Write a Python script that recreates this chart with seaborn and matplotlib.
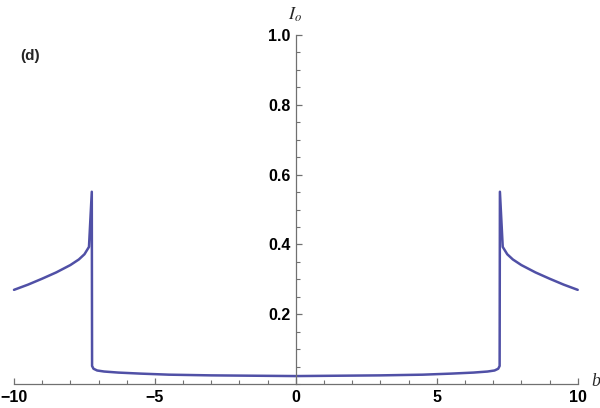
import matplotlib
matplotlib.use("Agg")
import matplotlib.pyplot as plt
import seaborn as sns
import pandas as pd
from matplotlib.ticker import MultipleLocator

# ---- data ----
b_vals = [-10.0, -9.5, -9.0, -8.5, -8.0, -7.7, -7.5, -7.34, -7.24, -7.23,
          -7.18, -7.05, -6.8, -6.3, -5.5, -4.5, -3.0, -1.5, 0.0,
          1.5, 3.0, 4.5, 5.5, 6.3, 6.8, 7.05, 7.18, 7.23, 7.24, 7.34,
          7.5, 7.7, 8.0, 8.5, 9.0, 9.5, 10.0]
io_vals = [0.270, 0.285, 0.302, 0.320, 0.341, 0.357, 0.372, 0.393, 0.551, 0.052,
           0.044, 0.039, 0.036, 0.033, 0.030, 0.027, 0.025, 0.024, 0.023,
           0.024, 0.025, 0.027, 0.030, 0.033, 0.036, 0.039, 0.044, 0.052, 0.551, 0.393,
           0.372, 0.357, 0.341, 0.320, 0.302, 0.285, 0.270]
x_major = [-10, -5, 0, 5, 10]
x_labels = ["\u221210", "\u22125", "0", "5", "10"]
y_major = [0.2, 0.4, 0.6, 0.8, 1.0]
y_labels = ["0.2", "0.4", "0.6", "0.8", "1.0"]
panel_label = "(d)"
x_name = "b"
y_name = r"$I_o$"

sns.set_style("white")
plt.rcParams["font.family"] = ["Liberation Sans", "DejaVu Sans"]
plt.rcParams["mathtext.fontset"] = "stix"

fig = plt.figure(figsize=(6.0, 4.08), dpi=100)
W, H = 600, 408
left_px, right_px, top_px, bottom_px = 14, 577.7, 35, 384.1
ax = fig.add_axes([left_px / W, 1 - bottom_px / H,
                   (right_px - left_px) / W, (bottom_px - top_px) / H])

df = pd.DataFrame({"b": b_vals, "Io": io_vals})
sns.lineplot(data=df, x="b", y="Io", sort=False, estimator=None,
             color="#5050a6", lw=1.8, ax=ax, clip_on=False)

ax.set_xlim(-10, 10)
ax.set_ylim(0, 1.0)
ax.set_xlabel("")
ax.set_ylabel("")

axis_col = "#707070"
for s in ["top", "right"]:
    ax.spines[s].set_visible(False)
ax.spines["left"].set_position(("data", 0))
ax.spines["bottom"].set_position(("data", 0))
for s in ["left", "bottom"]:
    ax.spines[s].set_color(axis_col)
    ax.spines[s].set_linewidth(0.9)

ax.set_xticks(x_major)
ax.set_xticklabels(x_labels)
ax.set_yticks(y_major)
ax.set_yticklabels(y_labels)
ax.xaxis.set_minor_locator(MultipleLocator(1))
ax.yaxis.set_minor_locator(MultipleLocator(0.05))
ax.tick_params(which="both", bottom=True, left=True, top=False, right=False)
ax.tick_params(which="major", direction="in", length=4.5, width=0.9,
               color=axis_col, labelsize=11.5, labelcolor="black")
ax.tick_params(which="minor", direction="in", length=2.8, width=0.8,
               color=axis_col)
ax.tick_params(axis="x", which="major", pad=4)
ax.tick_params(axis="y", which="major", pad=4)
for lab in ax.get_xticklabels() + ax.get_yticklabels():
    lab.set_fontweight("bold")

fig.text(30.5 / W, 1 - 56 / H, panel_label, fontsize=11, fontweight="bold",
         ha="center", va="center")
fig.text(295 / W, 1 - 15 / H, y_name, fontsize=13, ha="center", va="center")
fig.text(596 / W, 1 - 382 / H, x_name, fontsize=13, ha="center", va="center",
         family="Liberation Serif", style="italic")

fig.savefig("out.png", dpi=100, facecolor="white")
